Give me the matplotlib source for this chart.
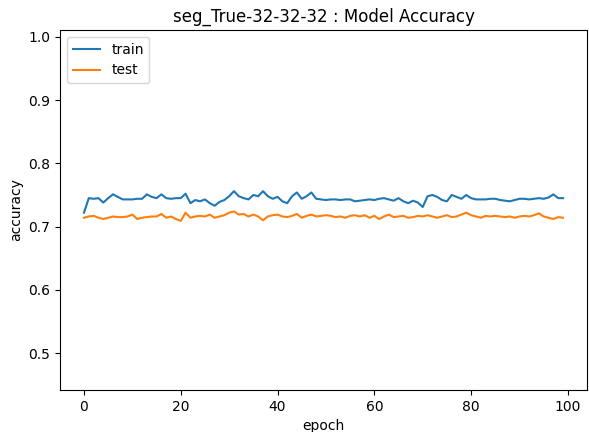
import matplotlib
matplotlib.use('Agg')
import matplotlib.pyplot as plt
import numpy as np

title = 'seg_True-32-32-32 : Model Accuracy'

# accuracy per epoch
train_acc = [
    0.722, 0.745, 0.744, 0.745, 0.738, 0.745, 0.751, 0.747, 0.743, 0.743,
    0.743, 0.744, 0.744, 0.751, 0.747, 0.745, 0.751, 0.745, 0.744, 0.745,
    0.745, 0.752, 0.737, 0.742, 0.740, 0.743, 0.737, 0.733, 0.739, 0.742,
    0.748, 0.756, 0.748, 0.745, 0.743, 0.750, 0.748, 0.756, 0.748, 0.744,
    0.747, 0.740, 0.737, 0.748, 0.754, 0.744, 0.748, 0.754, 0.744, 0.743,
    0.742, 0.743, 0.743, 0.742, 0.743, 0.743, 0.740, 0.741, 0.742, 0.743,
    0.742, 0.744, 0.745, 0.743, 0.741, 0.745, 0.740, 0.737, 0.741, 0.738,
    0.731, 0.748, 0.750, 0.747, 0.742, 0.740, 0.750, 0.747, 0.744, 0.750,
    0.745, 0.743, 0.743, 0.743, 0.744, 0.744, 0.742, 0.741, 0.740, 0.742,
    0.744, 0.744, 0.743, 0.744, 0.745, 0.744, 0.746, 0.751, 0.745, 0.745,
]
test_acc = [
    0.714, 0.716, 0.717, 0.714, 0.712, 0.714, 0.716, 0.715, 0.715, 0.716,
    0.719, 0.712, 0.714, 0.715, 0.716, 0.716, 0.720, 0.714, 0.716, 0.712,
    0.709, 0.722, 0.714, 0.716, 0.717, 0.716, 0.719, 0.714, 0.716, 0.718,
    0.722, 0.724, 0.719, 0.720, 0.716, 0.719, 0.716, 0.710, 0.716, 0.718,
    0.719, 0.716, 0.715, 0.717, 0.720, 0.714, 0.717, 0.719, 0.716, 0.717,
    0.718, 0.717, 0.715, 0.716, 0.714, 0.717, 0.718, 0.716, 0.718, 0.714,
    0.717, 0.712, 0.716, 0.719, 0.715, 0.716, 0.717, 0.714, 0.715, 0.717,
    0.716, 0.718, 0.716, 0.714, 0.716, 0.718, 0.715, 0.716, 0.719, 0.722,
    0.718, 0.716, 0.714, 0.717, 0.716, 0.717, 0.716, 0.715, 0.716, 0.714,
    0.716, 0.717, 0.716, 0.718, 0.721, 0.716, 0.714, 0.712, 0.715, 0.714,
]
epochs = np.arange(len(train_acc))

fig = plt.figure(figsize=(5.89, 4.32), dpi=100)
ax = fig.add_axes([60 / 589, 1 - 390 / 432, 527 / 589, 360 / 432])

ax.plot(epochs, train_acc, label='train')
ax.plot(epochs, test_acc, label='test')

ax.set_xlim(-4.95, 103.95)
ax.set_ylim(0.4415, 1.011)
ax.set_yticks([0.5, 0.6, 0.7, 0.8, 0.9, 1.0])
ax.set_title(title)
ax.set_xlabel('epoch')
ax.set_ylabel('accuracy')
ax.legend(loc='upper left')

plt.savefig('out.png', dpi=100)
